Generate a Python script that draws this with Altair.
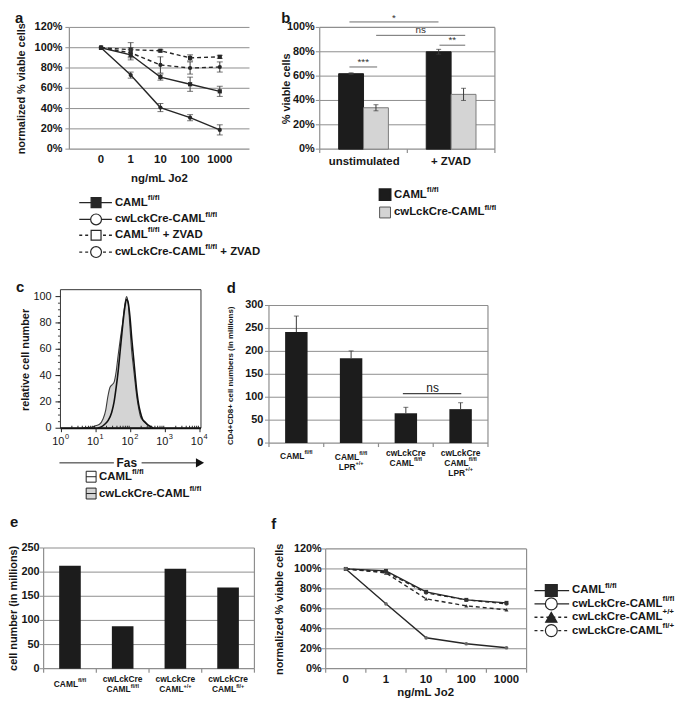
import math
import altair as alt
import pandas as pd

FONT = "Liberation Sans"
INK = "#161616"
LINE = "#262626"
ERR = "#3a3a3a"
GRID = "#8e8e8e"
GREY = "#d4d4d4"
PAGE = 8

# ---------------- data ----------------
a_doses = ["0", "1", "10", "100", "1000"]
a_caml = [100, 93, 71, 64, 57]
a_caml_err = [0, 5, 3, 7, 5]
a_cw = [100, 73, 41, 31, 19]
a_cw_err = [0, 3, 4, 3, 5]
a_caml_z = [100, 98, 97, 90, 91]
a_caml_z_err = [0, 7, 1, 3, 1.5]
a_cw_z = [100, 95, 83, 80, 81]
a_cw_z_err = [0, 5, 8, 6, 5]
a_ticks = [0, 20, 40, 60, 80, 100, 120]

b_groups = ["unstimulated", "+ ZVAD"]
b_series = ["CAML", "cw"]
b_caml = [62, 80]
b_caml_err = [0.7, 2]
b_cw = [34, 45]
b_cw_err = [2.5, 5]
b_ticks = [0, 20, 40, 60, 80, 100]

c_cw_logx = [0.60, 0.75, 0.90, 1.00, 1.10, 1.20, 1.28, 1.34, 1.40, 1.46, 1.52, 1.58, 1.64, 1.70, 1.76,
             1.82, 1.88, 1.93, 1.98, 2.03, 2.08, 2.13, 2.18, 2.23, 2.28, 2.35, 2.42, 2.50, 2.62]
c_cw_y = [0, 0.5, 1, 2, 3, 7, 14, 24, 31, 33, 35, 43, 56, 68, 79,
          92, 100, 94, 76, 58, 46, 34, 23, 15, 9, 6, 4, 2, 0]
c_caml_logx = [1.05, 1.15, 1.25, 1.35, 1.45, 1.52, 1.58, 1.64, 1.70, 1.76, 1.82, 1.88, 1.93,
               1.98, 2.03, 2.08, 2.13, 2.18, 2.23, 2.28, 2.34, 2.40, 2.48, 2.56, 2.65]
c_caml_y = [0, 1, 3, 6, 12, 20, 31, 44, 60, 76, 90, 98, 95,
            84, 68, 54, 40, 27, 18, 12, 7, 5, 3, 1.5, 0]
c_yticks = [0, 20, 40, 60, 80, 100]
c_xexp = [0, 1, 2, 3, 4]

d_cats = ["d1", "d2", "d3", "d4"]
d_vals = [242, 185, 65, 74]
d_err = [35, 16, 13, 14]
d_ticks = [0, 50, 100, 150, 200, 250, 300]

e_cats = ["e1", "e2", "e3", "e4"]
e_vals = [213, 88, 207, 168]
e_ticks = [0, 50, 100, 150, 200, 250]

f_doses = ["0", "1", "10", "100", "1000"]
f_caml = [100, 98, 77, 69, 66]
f_cw = [100, 65, 31, 25, 21]
f_pp = [100, 96, 70, 63, 59]
f_fp = [100, 97, 76, 69, 65]
f_ticks = [0, 20, 40, 60, 80, 100, 120]

# ---------------- helpers ----------------
WB = {' ': 278, '%': 889, '+': 584, '-': 333, '/': 278, '(': 333, ')': 333, 'A': 722, 'C': 722,
      'D': 722, 'E': 667, 'F': 611, 'J': 556, 'L': 611, 'M': 833, 'N': 722, 'P': 667, 'R': 722,
      'V': 667, 'Z': 611, 'a': 556, 'b': 611, 'c': 556, 'd': 611, 'e': 556, 'f': 333, 'g': 611,
      'i': 278, 'k': 556, 'l': 278, 'm': 889, 'n': 611, 'o': 611, 'r': 389, 's': 556, 't': 333,
      'u': 611, 'v': 556, 'w': 778, 'z': 500}
WR = {' ': 278, 'n': 556, 's': 500, '/': 278, '+': 584}


def tw(s, size, bold=True):
    tab = WB if bold else WR
    return sum(tab.get(ch, 556) for ch in s) * size / 1000.0


def px(v):
    return v - PAGE


ONE = pd.DataFrame({"k": [0]})
layers = []


def fw(bold):
    return "bold" if bold else "normal"


def txt(s, x, y, size=11, bold=True, align="left", baseline="middle", angle=0, color=INK):
    layers.append(alt.Chart(pd.DataFrame({"t": [s]})).mark_text(
        align=align, baseline=baseline, fontSize=size, fontWeight=fw(bold), font=FONT,
        color=color, angle=angle).encode(x=alt.value(px(x)), y=alt.value(px(y)), text="t:N"))


def rich(parts, x, y, size, sup, bold=True, align="left", xenc=None):
    items = []
    for s, k in parts:
        fs = sup if k == "s" else size
        if s.startswith(" "):
            a = tw(" ", fs, bold)
            s = s.lstrip(" ")
        else:
            a = 0.0
        items.append((s, k, fs, a))
    total = sum(a + tw(s, fs, bold) for s, k, fs, a in items)
    start = -total / 2 if align == "center" else (-total if align == "right" else 0.0)
    off = start
    for s, k, fs, a in items:
        off += a
        yy = y - 0.42 * size if k == "s" else y
        if xenc is None:
            txt(s, x + off, yy, fs, bold, "left")
        else:
            scale, val = xenc
            layers.append(alt.Chart(pd.DataFrame({"c": [val], "t": [s]})).mark_text(
                align="left", baseline="middle", fontSize=fs, fontWeight=fw(bold), font=FONT,
                color=INK, dx=off).encode(
                x=alt.X("c:N", scale=scale, axis=None), y=alt.value(px(yy)), text="t:N"))
        off += tw(s, fs, bold)


def hline(x1, x2, y, color=GRID, w=1.0, dash=None):
    p = dict(color=color, strokeWidth=w)
    if dash:
        p["strokeDash"] = dash
    layers.append(alt.Chart(ONE).mark_rule(**p).encode(
        x=alt.value(px(x1)), x2=alt.value(px(x2)), y=alt.value(px(y))))


def vline(x, y1, y2, color=GRID, w=1.0):
    layers.append(alt.Chart(ONE).mark_rule(color=color, strokeWidth=w).encode(
        x=alt.value(px(x)), y=alt.value(px(y1)), y2=alt.value(px(y2))))


def box(x1, x2, y1, y2, color=GRID, w=1.0):
    hline(x1, x2, y1, color, w)
    hline(x1, x2, y2, color, w)
    vline(x1, y1, y2, color, w)
    vline(x2, y1, y2, color, w)


def grid_h(vals, scale, x1, x2, color=GRID, w=1.0):
    layers.append(alt.Chart(pd.DataFrame({"v": vals})).mark_rule(color=color, strokeWidth=w).encode(
        y=alt.Y("v:Q", scale=scale, axis=None), x=alt.value(px(x1)), x2=alt.value(px(x2))))


def ticks_v(vals, scale, y1, y2, color=GRID, w=1.0):
    layers.append(alt.Chart(pd.DataFrame({"v": vals})).mark_rule(color=color, strokeWidth=w).encode(
        x=alt.X("v:Q", scale=scale, axis=None), y=alt.value(px(y1)), y2=alt.value(px(y2))))


def y_labels(vals, texts, scale, xr, size=11, bold=True):
    df = pd.DataFrame({"v": vals, "t": texts})
    layers.append(alt.Chart(df).mark_text(
        align="right", baseline="middle", fontSize=size, fontWeight=fw(bold), font=FONT,
        color=INK).encode(x=alt.value(px(xr)), y=alt.Y("v:Q", scale=scale, axis=None), text="t:N"))


def x_labels(texts, scale, y, size=11, bold=True):
    df = pd.DataFrame({"i": list(range(len(texts))), "t": texts})
    layers.append(alt.Chart(df).mark_text(
        align="center", baseline="middle", fontSize=size, fontWeight=fw(bold), font=FONT,
        color=INK).encode(x=alt.X("i:Q", scale=scale, axis=None), y=alt.value(px(y)), text="t:N"))


def line_series(ys, errs, xs, yscale, dash, shape, msize, mfill):
    n = len(ys)
    df = pd.DataFrame({"i": list(range(n)), "v": ys,
                       "lo": [v - e for v, e in zip(ys, errs)],
                       "hi": [v + e for v, e in zip(ys, errs)],
                       "e": errs})
    X = alt.X("i:Q", scale=xs, axis=None)
    p = dict(color=LINE, strokeWidth=1.4)
    if dash:
        p["strokeDash"] = dash
    layers.append(alt.Chart(df).mark_line(**p).encode(x=X, y=alt.Y("v:Q", scale=yscale, axis=None)))
    de = df[df["e"] > 0]
    if len(de):
        layers.append(alt.Chart(de).mark_rule(color=ERR, strokeWidth=1).encode(
            x=X, y=alt.Y("lo:Q", scale=yscale, axis=None), y2="hi:Q"))
        for f in ["lo", "hi"]:
            layers.append(alt.Chart(de).mark_tick(orient="horizontal", size=6, thickness=1, color=ERR).encode(
                x=X, y=alt.Y(f + ":Q", scale=yscale, axis=None)))
    layers.append(alt.Chart(df).mark_point(shape=shape, size=msize, filled=True, color=mfill, opacity=1).encode(
        x=X, y=alt.Y("v:Q", scale=yscale, axis=None)))


def legend_row(y, x1, x2, xm, dash, shape, msize, fill, parts, xt, size, sup):
    hline(x1, x2, y, color=LINE, w=1.3, dash=dash)
    layers.append(alt.Chart(ONE).mark_point(shape=shape, size=msize, filled=True, fill=fill, stroke=LINE,
                                            strokeWidth=1.2, opacity=1).encode(
        x=alt.value(px(xm)), y=alt.value(px(y))))
    rich(parts, xt, y, size, sup)


# ================= panel a =================
A_L, A_R, A_T, A_B = 70, 252, 24, 147
xa = alt.Scale(domain=[0, 4], range=[px(102), px(222)], nice=False, zero=False)
ya = alt.Scale(domain=[0, 120], range=[px(A_B), px(A_T)], nice=False, zero=False)
txt("a", 15, 20, 15, True, baseline="alphabetic")
grid_h(a_ticks[1:], ya, A_L, A_R)
hline(A_L, A_R, A_B, GRID, 1.2)
vline(A_L, A_T, A_B, GRID, 1.2)
grid_h(a_ticks, ya, A_L - 4, A_L)
y_labels(a_ticks, [f"{v}%" for v in a_ticks], ya, 63, 11)
txt("normalized % viable cells", 22, 86, 11, True, "center", "middle", 270)
x_labels(a_doses, xa, 158, 11.5)
txt("ng/mL Jo2", 161, 177, 11.5, True, "center")
line_series(a_caml_z, a_caml_z_err, xa, ya, [4, 3], "square", 18, LINE)
line_series(a_cw_z, a_cw_z_err, xa, ya, [4, 3], "circle", 18, LINE)
line_series(a_caml, a_caml_err, xa, ya, None, "square", 18, LINE)
line_series(a_cw, a_cw_err, xa, ya, None, "circle", 18, LINE)
legend_row(201, 80, 113, 97, None, "square", 100, LINE, [("CAML", "n"), ("fl/fl", "s")], 116, 11.5, 8)
legend_row(218, 80, 113, 97, None, "circle", 120, "white", [("cwLckCre-CAML", "n"), ("fl/fl", "s")], 116, 11.5, 8)
legend_row(234, 80, 113, 97, [3, 3], "square", 100, "white",
           [("CAML", "n"), ("fl/fl", "s"), (" + ZVAD", "n")], 116, 11.5, 8)
legend_row(251, 80, 113, 97, [3, 3], "circle", 120, "white",
           [("cwLckCre-CAML", "n"), ("fl/fl", "s"), (" + ZVAD", "n")], 116, 11.5, 8)

# ================= panel b =================
B_L, B_R, B_T, B_B = 323, 500, 24, 147
xb = alt.Scale(type="band", domain=b_groups, range=[px(B_L), px(B_R)], paddingInner=0.432, paddingOuter=0.216)
xob = alt.Scale(domain=b_series, paddingInner=0, paddingOuter=0)
yb = alt.Scale(domain=[0, 100], range=[px(B_B), px(B_T)], nice=False, zero=False)
txt("b", 284, 20, 15, True, baseline="alphabetic")
txt("% viable cells", 290, 86, 11, True, "center", "middle", 270)
grid_h(b_ticks[1:-1], yb, B_L, B_R)
box(B_L, B_R, B_T, B_B, GRID, 1.2)
grid_h(b_ticks, yb, B_L - 4, B_L)
y_labels(b_ticks, [f"{v}%" for v in b_ticks], yb, 318, 11)
for xx in [B_L, (B_L + B_R) / 2, B_R]:
    vline(xx, B_B, B_B + 4, GRID, 1.2)
for ser, vals, errs, fill, stroke in [("CAML", b_caml, b_caml_err, "#1c1c1c", "#1c1c1c"),
                                      ("cw", b_cw, b_cw_err, GREY, "#7a7a7a")]:
    df = pd.DataFrame({"g": b_groups, "s": [ser] * 2, "v": vals,
                       "lo": [v - e for v, e in zip(vals, errs)], "hi": [v + e for v, e in zip(vals, errs)]})
    X = alt.X("g:N", scale=xb, axis=None)
    XO = alt.XOffset("s:N", scale=xob)
    layers.append(alt.Chart(df).mark_bar(fill=fill, stroke=stroke, strokeWidth=1).encode(
        x=X, xOffset=XO, y=alt.Y("v:Q", scale=yb, axis=None), y2=alt.datum(0)))
    layers.append(alt.Chart(df).mark_rule(color=ERR, strokeWidth=1).encode(
        x=X, xOffset=XO, y=alt.Y("lo:Q", scale=yb, axis=None), y2="hi:Q"))
    for f in ["lo", "hi"]:
        layers.append(alt.Chart(df).mark_tick(orient="horizontal", size=5, thickness=1, color=ERR).encode(
            x=X, xOffset=XO, y=alt.Y(f + ":Q", scale=yb, axis=None)))
# significance annotations
sig_levels = [104.5, 93.5, 85.4, 67.5]
sig_text = ["*", "ns", "**", "***"]
sig_x = [(353, 443), (380, 470), (444, 470), (353, 381)]
for (x1, x2), lv, st in zip(sig_x, sig_levels, sig_text):
    layers.append(alt.Chart(pd.DataFrame({"v": [lv]})).mark_rule(color="#6a6a6a", strokeWidth=1).encode(
        x=alt.value(px(x1)), x2=alt.value(px(x2)), y=alt.Y("v:Q", scale=yb, axis=None)))
    layers.append(alt.Chart(pd.DataFrame({"v": [lv], "t": [st]})).mark_text(
        align="center", baseline="alphabetic", fontSize=10, font=FONT, color="#333333",
        dy=(-1 if st == "*" else -2)).encode(
        x=alt.value(px((x1 + x2) / 2)), y=alt.Y("v:Q", scale=yb, axis=None), text="t:N"))
rich([("unstimulated", "n")], 368, 160, 11.5, 8, align="center")
rich([("+ ZVAD", "n")], 456, 160, 11.5, 8, align="center")
layers.append(alt.Chart(ONE).mark_point(shape="square", size=121, filled=True, fill="#1c1c1c", stroke="#1c1c1c",
                                        opacity=1).encode(x=alt.value(px(389)), y=alt.value(px(193))))
layers.append(alt.Chart(ONE).mark_point(shape="square", size=121, filled=True, fill=GREY, stroke="#555555",
                                        strokeWidth=1, opacity=1).encode(x=alt.value(px(389)), y=alt.value(px(211))))
rich([("CAML", "n"), ("fl/fl", "s")], 398, 193, 11.5, 8)
rich([("cwLckCre-CAML", "n"), ("fl/fl", "s")], 398, 211, 11.5, 8)

# ================= panel c =================
C_L, C_R, C_T, C_B = 61, 203, 289, 429
xc = alt.Scale(domain=[0, 4], range=[px(62), px(202)], nice=False, zero=False)
yc = alt.Scale(domain=[0, 100], range=[px(C_B), px(296)], nice=False, zero=False)
txt("c", 16, 291, 15, True, baseline="alphabetic")
df_cw = pd.DataFrame({"x": c_cw_logx, "y": c_cw_y})
df_caml = pd.DataFrame({"x": c_caml_logx, "y": c_caml_y})
layers.append(alt.Chart(df_cw).mark_area(color=GREY, opacity=1, interpolate="monotone").encode(
    x=alt.X("x:Q", scale=xc, axis=None), y=alt.Y("y:Q", scale=yc, axis=None)))
layers.append(alt.Chart(df_cw).mark_line(color="#3c3c3c", strokeWidth=1.1, interpolate="monotone").encode(
    x=alt.X("x:Q", scale=xc, axis=None), y=alt.Y("y:Q", scale=yc, axis=None)))
layers.append(alt.Chart(df_caml).mark_line(color="#111111", strokeWidth=1.6, interpolate="monotone").encode(
    x=alt.X("x:Q", scale=xc, axis=None), y=alt.Y("y:Q", scale=yc, axis=None)))
box(C_L, C_R, C_T, C_B, "#333333", 1)
hline(C_L, C_R, C_B, "#111111", 2)
c_minor_x = [d + math.log10(k) for d in range(4) for k in range(2, 10)]
ticks_v(c_minor_x, xc, C_B - 2.5, C_B, "#222222", 1)
ticks_v(c_xexp, xc, C_B, C_B + 4, "#222222", 1)
c_minor_y = list(range(5, 100, 5))
grid_h(c_minor_y, yc, C_L - 2.5, C_L, "#444444", 1)
grid_h(c_yticks, yc, C_L - 5, C_L, "#222222", 1)
y_labels(c_yticks, [str(v) for v in c_yticks], yc, 52, 11, False)
for e in c_xexp:
    layers.append(alt.Chart(pd.DataFrame({"v": [e], "t": ["10"]})).mark_text(
        align="right", baseline="middle", fontSize=11, font=FONT, color=INK, dx=3).encode(
        x=alt.X("v:Q", scale=xc, axis=None), y=alt.value(px(443)), text="t:N"))
    layers.append(alt.Chart(pd.DataFrame({"v": [e], "t": [str(e)]})).mark_text(
        align="left", baseline="middle", fontSize=7.5, font=FONT, color=INK, dx=3.5).encode(
        x=alt.X("v:Q", scale=xc, axis=None), y=alt.value(px(438)), text="t:N"))
txt("relative cell number", 26, 360, 11, True, "center", "middle", 270)
hline(60, 115, 464, "#222222", 1)
txt("Fas", 128, 464, 12, True, "center")
hline(143, 199, 464, "#222222", 1)
layers.append(alt.Chart(ONE).mark_point(shape="triangle-right", size=90, filled=True, color="#111111",
                                        opacity=1).encode(x=alt.value(px(202)), y=alt.value(px(464))))
for yy, fill in [(478, "white"), (495, GREY)]:
    layers.append(alt.Chart(ONE).mark_rect(fill=fill, stroke="#222222", strokeWidth=1).encode(
        x=alt.value(px(87)), x2=alt.value(px(97)), y=alt.value(px(yy - 5.5)), y2=alt.value(px(yy + 5.5))))
    hline(87, 97, yy, "#222222", 1)
rich([("CAML", "n"), ("fl/fl", "s")], 100, 478, 11.5, 8)
rich([("cwLckCre-CAML", "n"), ("fl/fl", "s")], 100, 495, 11.5, 8)

# ================= panel d =================
D_L, D_R, D_T, D_B = 271.7, 493, 305, 444
xd = alt.Scale(type="band", domain=d_cats, range=[px(D_L), px(D_R)], paddingInner=0.59, paddingOuter=0.295)
xd_idx = alt.Scale(domain=[0, 4], range=[px(D_L), px(D_R)], nice=False, zero=False)
yd = alt.Scale(domain=[0, 300], range=[px(D_B), px(D_T)], nice=False, zero=False)
txt("d", 229, 292, 15, True, baseline="alphabetic")
grid_h(d_ticks[1:-1], yd, D_L, D_R)
box(D_L, D_R, D_T, D_B, GRID, 1.2)
grid_h(d_ticks, yd, D_L - 4, D_L)
y_labels(d_ticks, [str(v) for v in d_ticks], yd, 266, 11)
ticks_v([0, 1, 2, 3, 4], xd_idx, D_B, D_B + 4, GRID, 1.2)
df_d = pd.DataFrame({"c": d_cats, "v": d_vals, "hi": [v + e for v, e in zip(d_vals, d_err)]})
layers.append(alt.Chart(df_d).mark_bar(color="#1c1c1c").encode(
    x=alt.X("c:N", scale=xd, axis=None), y=alt.Y("v:Q", scale=yd, axis=None), y2=alt.datum(0)))
layers.append(alt.Chart(df_d).mark_rule(color=ERR, strokeWidth=1).encode(
    x=alt.X("c:N", scale=xd, axis=None), y=alt.Y("v:Q", scale=yd, axis=None), y2="hi:Q"))
layers.append(alt.Chart(df_d).mark_tick(orient="horizontal", size=5, thickness=1, color=ERR).encode(
    x=alt.X("c:N", scale=xd, axis=None), y=alt.Y("hi:Q", scale=yd, axis=None)))
hline(407, 466, 394, "#444444", 1.3)
txt("ns", 437, 388, 12, False, "center")
txt("CD4+CD8+ cell numbers (in millions)", 233, 376, 8, True, "center", "middle", 270)
dl = 8.5
ds = 5.5
rich([("CAML", "n"), ("fl/fl", "s")], 0, 457, dl, ds, align="center", xenc=(xd, "d1"))
rich([("CAML", "n"), ("fl/fl", "s")], 0, 458, dl, ds, align="center", xenc=(xd, "d2"))
rich([("LPR", "n"), ("+/+", "s")], 0, 468, dl, ds, align="center", xenc=(xd, "d2"))
rich([("cwLckCre", "n")], 0, 454, dl, ds, align="center", xenc=(xd, "d3"))
rich([("CAML", "n"), ("fl/fl", "s")], 0, 464, dl, ds, align="center", xenc=(xd, "d3"))
rich([("cwLckCre", "n")], 0, 454, dl, ds, align="center", xenc=(xd, "d4"))
rich([("CAML", "n"), ("fl/fl", "s")], 0, 464, dl, ds, align="center", xenc=(xd, "d4"))
rich([("LPR", "n"), ("+/+", "s")], 0, 474, dl, ds, align="center", xenc=(xd, "d4"))

# ================= panel e =================
E_L, E_R, E_T, E_B = 44, 257, 550, 672
xe = alt.Scale(type="band", domain=e_cats, range=[px(E_L), px(E_R)], paddingInner=0.59, paddingOuter=0.295)
xe_idx = alt.Scale(domain=[0, 4], range=[px(E_L), px(E_R)], nice=False, zero=False)
ye = alt.Scale(domain=[0, 250], range=[px(E_B), px(E_T)], nice=False, zero=False)
txt("e", 10, 529, 15, True, baseline="alphabetic")
grid_h(e_ticks[1:-1], ye, E_L, E_R)
box(E_L, E_R, E_T, E_B, GRID, 1.2)
grid_h(e_ticks, ye, E_L - 4, E_L)
y_labels(e_ticks, [str(v) for v in e_ticks], ye, 40, 11)
ticks_v([0, 1, 2, 3, 4], xe_idx, E_B, E_B + 4, GRID, 1.2)
df_e = pd.DataFrame({"c": e_cats, "v": e_vals})
layers.append(alt.Chart(df_e).mark_bar(color="#1c1c1c").encode(
    x=alt.X("c:N", scale=xe, axis=None), y=alt.Y("v:Q", scale=ye, axis=None), y2=alt.datum(0)))
txt("cell number (in millions)", 14, 611, 11, True, "center", "middle", 270)
el = 8.5
es = 5.5
rich([("CAML", "n"), ("fl/fl", "s")], 0, 687, el, es, align="center", xenc=(xe, "e1"))
for cat, sup in [("e2", "fl/fl"), ("e3", "+/+"), ("e4", "fl/+")]:
    rich([("cwLckCre", "n")], 0, 682.5, el, es, align="center", xenc=(xe, cat))
    rich([("CAML", "n"), (sup, "s")], 0, 693, el, es, align="center", xenc=(xe, cat))

# ================= panel f =================
F_L, F_R, F_T, F_B = 329, 532, 551, 672
xf = alt.Scale(domain=[0, 4], range=[px(349.3), px(511.7)], nice=False, zero=False)
xf_idx = alt.Scale(domain=[0, 5], range=[px(F_L), px(F_R)], nice=False, zero=False)
yf = alt.Scale(domain=[0, 120], range=[px(F_B), px(F_T)], nice=False, zero=False)
txt("f", 274, 531, 15, True, baseline="alphabetic")
grid_h(f_ticks[1:-1], yf, F_L, F_R)
box(F_L, F_R, F_T, F_B, GRID, 1.2)
grid_h(f_ticks, yf, F_L - 4, F_L)
y_labels(f_ticks, [f"{v}%" for v in f_ticks], yf, 325, 11)
ticks_v([0, 1, 2, 3, 4, 5], xf_idx, F_B, F_B + 4, GRID, 1.2)
x_labels(f_doses, xf, 683, 11.5)
txt("ng/mL Jo2", 430, 697, 11.5, True, "center")
txt("normalized % viable cells", 283, 612, 11, True, "center", "middle", 270)
line_series(f_pp, [0] * 5, xf, yf, [4, 3], "triangle-up", 16, "#333333")
line_series(f_fp, [0] * 5, xf, yf, [4, 3], "circle", 14, "#555555")
line_series(f_caml, [0] * 5, xf, yf, None, "square", 16, "#333333")
line_series(f_cw, [0] * 5, xf, yf, None, "circle", 14, "#666666")
legend_row(593, 540, 575, 557, None, "square", 144, LINE, [("CAML", "n"), ("fl/fl", "s")], 578, 11.5, 8)
legend_row(606.5, 540, 575, 557, None, "circle", 144, "white",
           [("cwLckCre-CAML", "n"), ("fl/fl", "s")], 578, 11.5, 8)
legend_row(620, 540, 575, 557, [3, 3], "triangle-up", 130, LINE,
           [("cwLckCre-CAML", "n"), ("+/+", "s")], 578, 11.5, 8)
legend_row(633.5, 540, 575, 557, [3, 3], "circle", 144, "white",
           [("cwLckCre-CAML", "n"), ("fl/+", "s")], 578, 11.5, 8)

chart = alt.layer(*layers).resolve_scale(x="independent", y="independent").properties(
    width=676, height=693, padding=0, autosize=alt.AutoSizeParams(type="none"), background="white"
).configure_view(stroke=None)

chart.save("out.html", embed_options={"renderer": "svg", "actions": False})
